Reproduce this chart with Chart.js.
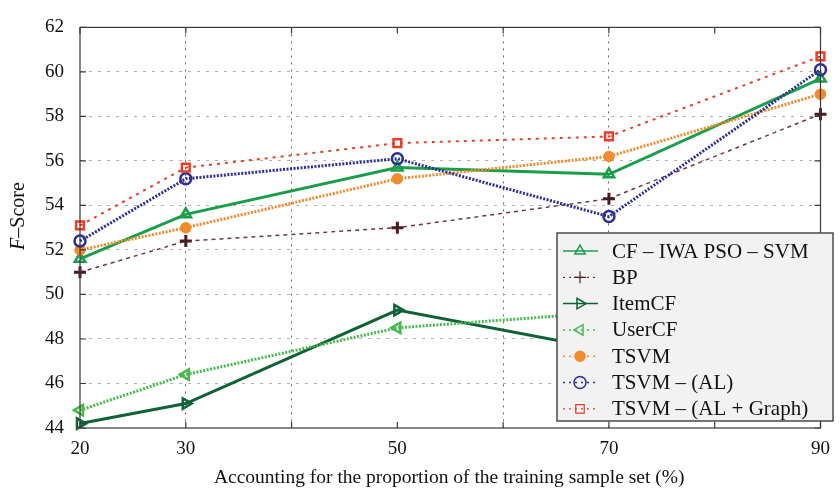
<!DOCTYPE html>
<html>
<head>
<meta charset="utf-8">
<script src="https://cdn.jsdelivr.net/npm/chart.js@4/dist/chart.umd.min.js"></script>
<style>
  html, body { margin: 0; padding: 0; background: #fff; }
  #myChart { display: block; }
</style>
</head>
<body>
<canvas id="myChart" width="840" height="496"></canvas>
<script>
// training proportion (%)
const xValues = [20, 30, 50, 70, 90];
const xTickLabels = [20, 30, 50, 70, 90];
const xGridValues = [30, 40, 60, 70];
const yTicks = [44, 46, 48, 50, 52, 54, 56, 58, 60, 62];

const seriesNames = ['CF – IWA PSO – SVM', 'BP', 'ItemCF', 'UserCF', 'TSVM', 'TSVM – (AL)', 'TSVM – (AL + Graph)'];
const cfIwaPsoSvm = [51.6, 53.6, 55.7, 55.4, 59.7];
const bp = [51.0, 52.4, 53.0, 54.3, 58.1];
const itemCF = [44.2, 45.1, 49.3, 47.5, 50.9];
const userCF = [44.8, 46.4, 48.5, 49.2, 51.6];
const tsvm = [52.0, 53.0, 55.2, 56.2, 59.0];
const tsvmAL = [52.4, 55.2, 56.1, 53.5, 60.1];
const tsvmALGraph = [53.1, 55.7, 56.8, 57.1, 60.7];

const serif = '"Liberation Serif", "DejaVu Serif", serif';

function toPoints(values) {
  return values.map((v, i) => ({ x: xValues[i], y: v }));
}

const styles = [
  { color: '#1b9e4b', width: 3, dash: [], point: 'triangle', rot: 0, fill: 'rgba(0,0,0,0)', r: 6 },
  { color: '#6a3a3e', width: 1.5, dash: [4, 4], point: 'cross', rot: 0, fill: 'rgba(0,0,0,0)', r: 6, pColor: '#4a1c22', pWidth: 3 },
  { color: '#0f6236', width: 3, dash: [], point: 'triangle', rot: 90, fill: 'rgba(0,0,0,0)', r: 6 },
  { color: '#48b94d', width: 3, dash: [2, 1.5], point: 'triangle', rot: -90, fill: 'rgba(0,0,0,0)', r: 6 },
  { color: '#f28b2c', width: 3, dash: [2, 1.5], point: 'circle', rot: 0, fill: '#f28b2c', r: 4.5 },
  { color: '#2d2d96', width: 3, dash: [2, 1.5], point: 'circle', rot: 0, fill: 'rgba(0,0,0,0)', r: 5.5 },
  { color: '#ec3d26', width: 2, dash: [3, 5], point: 'rect', rot: 0, fill: 'rgba(0,0,0,0)', r: 5.5 }
];

const allValues = [cfIwaPsoSvm, bp, itemCF, userCF, tsvm, tsvmAL, tsvmALGraph];

const datasets = allValues.map((vals, i) => {
  const s = styles[i];
  return {
    label: seriesNames[i],
    data: toPoints(vals),
    borderColor: s.color,
    borderWidth: s.width,
    borderDash: s.dash,
    pointStyle: s.point,
    rotation: s.rot,
    pointRadius: s.r,
    pointBorderColor: s.pColor || s.color,
    pointBorderWidth: s.pWidth || 2.5,
    pointBackgroundColor: s.fill,
    tension: 0,
    clip: false,
    order: 7 - i
  };
});

const framePlugin = {
  id: 'frame',
  afterDraw(chart) {
    const ctx = chart.ctx;
    const a = chart.chartArea;
    const xs = chart.scales.x, ys = chart.scales.y;
    ctx.save();
    // box
    ctx.strokeStyle = '#3a3a3a';
    ctx.lineWidth = 1.2;
    ctx.strokeRect(a.left, a.top, a.right - a.left, a.bottom - a.top);
    // inward ticks
    ctx.beginPath();
    for (let v = 20; v <= 90; v += 10) {
      const px = xs.getPixelForValue(v);
      ctx.moveTo(px, a.top); ctx.lineTo(px, a.top + 6);
      ctx.moveTo(px, a.bottom); ctx.lineTo(px, a.bottom - 6);
    }
    yTicks.forEach(v => {
      const py = ys.getPixelForValue(v);
      ctx.moveTo(a.left, py); ctx.lineTo(a.left + 6, py);
      ctx.moveTo(a.right, py); ctx.lineTo(a.right - 6, py);
    });
    ctx.stroke();

    // axis titles
    ctx.fillStyle = '#111';
    ctx.font = '19.5px ' + serif;
    ctx.textAlign = 'center';
    ctx.textBaseline = 'middle';
    ctx.fillText('Accounting for the proportion of the training sample set (%)', (a.left + a.right) / 2 - 1, 478);

    ctx.translate(19, 216);
    ctx.rotate(-Math.PI / 2);
    ctx.font = 'italic 20px ' + serif;
    const wF = ctx.measureText('F').width;
    ctx.font = '20px ' + serif;
    const wR = ctx.measureText('–Score').width;
    const start = -(wF + wR) / 2;
    ctx.textAlign = 'left';
    ctx.font = 'italic 20px ' + serif;
    ctx.fillText('F', start, 0);
    ctx.font = '20px ' + serif;
    ctx.fillText('–Score', start + wF, 0);
    ctx.restore();

    // legend
    ctx.save();
    const lx = 557, ly = 233, lw = 276, lh = 188;
    ctx.fillStyle = '#f2f2f2';
    ctx.fillRect(lx, ly, lw, lh);
    ctx.strokeStyle = '#4a4a4a';
    ctx.lineWidth = 1.5;
    ctx.strokeRect(lx, ly, lw, lh);
    ctx.font = '21px ' + serif;
    ctx.textBaseline = 'middle';
    chart.data.datasets.forEach((ds, i) => {
      const s = styles[i];
      const cy = 251 + i * 26.3;
      ctx.strokeStyle = s.color;
      ctx.lineWidth = s.width >= 3 ? 1.5 : 1.2;
      ctx.setLineDash(s.dash.length ? [2, 4] : []);
      ctx.beginPath();
      ctx.moveTo(563, cy); ctx.lineTo(598, cy);
      ctx.stroke();
      ctx.setLineDash([]);
      ctx.strokeStyle = s.pColor || s.color;
      ctx.fillStyle = s.fill;
      Chart.helpers.drawPoint(ctx, {
        pointStyle: s.point, rotation: s.rot, radius: i === 4 ? 5 : 6,
        borderWidth: i === 1 ? 2 : 1.6
      }, 580, cy);
      ctx.fillStyle = '#111';
      ctx.fillText(ds.label, 612, cy + 1);
    });
    ctx.restore();
  }
};

const config = {
  type: 'line',
  data: { datasets: datasets },
  options: {
    responsive: false,
    devicePixelRatio: 1,
    animation: false,
    layout: { padding: { left: 0, right: 8, top: 13, bottom: 0 } },
    plugins: { legend: { display: false }, tooltip: { enabled: false } },
    scales: {
      x: {
        type: 'linear',
        min: 20,
        max: 90,
        afterFit: s => { s.height = 68; },
        border: { display: false, dash: [2, 5] },
        grid: {
          drawTicks: false,
          lineWidth: 1,
          color: c => xGridValues.includes(c.tick.value) ? '#666' : 'rgba(0,0,0,0)'
        },
        ticks: {
          stepSize: 10,
          padding: 10,
          color: '#111',
          font: { family: serif, size: 19 },
          maxRotation: 0,
          autoSkip: false,
          callback: v => xTickLabels.includes(v) ? String(v) : ''
        }
      },
      y: {
        min: 44,
        max: 62,
        afterFit: s => { s.width = 80; },
        border: { display: false, dash: [3, 6] },
        grid: {
          drawTicks: false,
          lineWidth: 1,
          color: c => (c.tick.value > 44 && c.tick.value < 62) ? '#b0b0b0' : 'rgba(0,0,0,0)'
        },
        ticks: {
          stepSize: 2,
          padding: 16,
          color: '#111',
          font: { family: serif, size: 19 }
        }
      }
    }
  },
  plugins: [framePlugin]
};

const canvasChart = document.getElementById('myChart');
const myChart = new Chart(canvasChart, config);
</script>
</body>
</html>
